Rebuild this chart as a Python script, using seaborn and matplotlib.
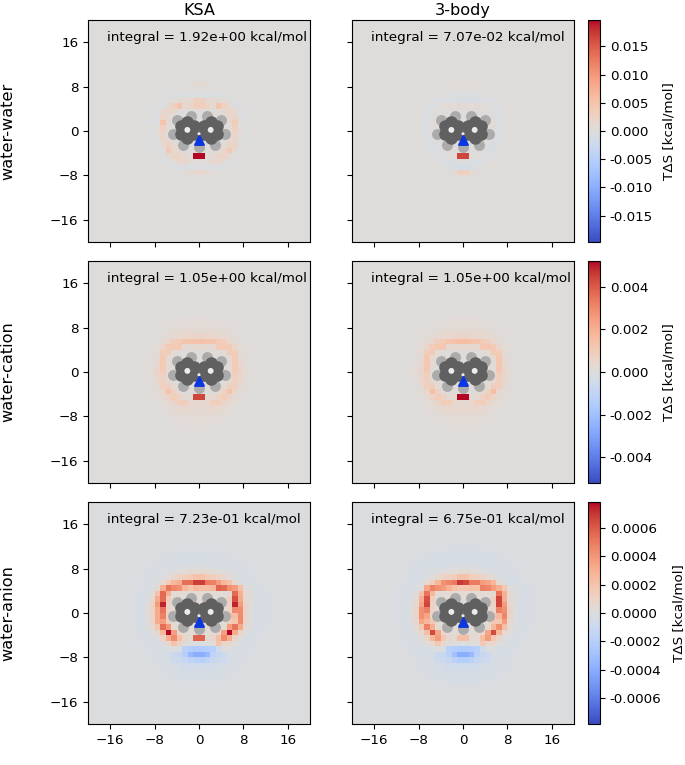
import numpy as np
import matplotlib
matplotlib.use("Agg")
import matplotlib.pyplot as plt
import seaborn as sns

# percent of the colour limit of each row, rows run from high y to low y
# top four panels: x = -11..10, y = 9..-11
ksa_ww = [
    [0, 0, 0, 0, 0, 0, 0, 0, 0, 0, 0, 0, 0, 0, 0, 0, 0, 0, 0, 0, 0, 0],
    [0, 0, 0, 0, 0, 0, 0, 0, 1, 2, 4, 4, 2, 1, 0, 0, 0, 0, 0, 0, 0, 0],
    [0, 0, 0, 0, 0, 0, 0, 0, 0, 0, 1, 1, 0, 0, 0, 0, 0, 0, 0, 0, 0, 0],
    [0, 0, 0, 0, 0, -1, -2, -2, -2, -2, -2, -2, -2, -2, -2, -2, -1, 0, 0, 0, 0, 0],
    [0, 0, 0, 0, -1, -2, 3, 4, 4, 6, 14, 14, 6, 4, 4, 3, -2, -1, 0, 0, 0, 0],
    [0, 0, 0, -1, -2, 4, 15, 24, 6, 10, 16, 16, 10, 6, 24, 15, 5, -2, -1, 0, 0, 0],
    [0, 0, -1, -2, 5, 10, 6, 1, 0, 0, 0, 0, 0, 0, 1, 6, 10, 5, -2, -1, 0, 0],
    [0, 0, -1, -2, 10, 6, 1, 0, 0, 0, 0, 0, 0, 0, 0, 1, 6, 10, -2, -1, 0, 0],
    [0, 0, -1, -2, 24, 4, 1, 0, 0, 0, 0, 0, 0, 0, 0, 1, 4, 20, -2, -1, 0, 0],
    [0, 0, -1, 3, 15, 2, 0, 0, 0, 0, 0, 0, 0, 0, 0, 0, 2, 15, 3, -1, 0, 0],
    [0, 0, -1, 3, 8, 3, 0, 0, 0, 0, 0, 0, 0, 0, 0, 0, 3, 8, 3, -1, 0, 0],
    [0, 0, -1, -1, 8, 5, 0, 0, 0, 0, 0, 0, 0, 0, 0, 0, 5, 8, -1, -1, 0, 0],
    [0, 0, 0, -2, 4, 15, 4, 0, 0, 0, 0, 0, 0, 0, 0, 4, 10, 10, -2, 0, 0, 0],
    [0, 0, 0, -1, -2, 22, 8, 3, 0, 0, 0, 0, 0, 0, 3, 8, 22, 4, -1, 0, 0, 0],
    [0, 0, 0, 0, -1, 4, 10, 10, 5, 3, 100, 100, 3, 5, 10, 10, 4, -1, 0, 0, 0, 0],
    [0, 0, 0, 0, -1, -2, 3, 8, 8, 3, 2, 2, 3, 8, 8, 3, -2, -1, 0, 0, 0, 0],
    [0, 0, 0, 0, 0, -1, -2, -2, -2, -3, -3, -3, -3, -2, -2, -2, -1, 0, 0, 0, 0, 0],
    [0, 0, 0, 0, 0, 0, 0, 0, 2, 4, 8, 8, 4, 2, 0, 0, 0, 0, 0, 0, 0, 0],
    [0, 0, 0, 0, 0, 0, 0, 0, 0, 0, 1, 1, 0, 0, 0, 0, 0, 0, 0, 0, 0, 0],
    [0, 0, 0, 0, 0, 0, 0, 0, 0, 0, 0, 0, 0, 0, 0, 0, 0, 0, 0, 0, 0, 0],
    [0, 0, 0, 0, 0, 0, 0, 0, 0, 0, 0, 0, 0, 0, 0, 0, 0, 0, 0, 0, 0, 0],
]
three_ww = [
    [0, 0, 0, 0, 0, 0, 0, 0, 1, 1, 1, 1, 1, 1, 0, 0, 0, 0, 0, 0, 0, 0],
    [0, 0, 0, 0, 0, 0, 0, 1, 1, 2, 3, 3, 2, 1, 1, 0, 0, 0, 0, 0, 0, 0],
    [0, 0, 0, 0, 0, 1, 1, 1, 1, 1, 1, 1, 1, 1, 1, 1, 1, 0, 0, 0, 0, 0],
    [0, 0, 0, 0, 1, 1, 0, -1, -2, -2, -2, -2, -2, -2, -1, 0, 1, 1, 0, 0, 0, 0],
    [0, 0, 0, 1, 0, -2, -3, -3, -4, -4, -5, -5, -5, -4, -3, -3, -2, 0, 1, 0, 0, 0],
    [0, 0, 1, 1, -2, -3, -1, 3, 5, 2, 4, 4, 2, 5, 3, -1, -3, -2, 1, 1, 0, 0],
    [0, 0, 1, 0, -3, -2, 2, 0, 0, 0, 0, 0, 0, 0, 0, 2, -2, -3, 0, 1, 0, 0],
    [0, 0, 1, -1, -4, 0, 0, 0, 0, 0, 0, 0, 0, 0, 0, 0, 0, -4, -1, 1, 0, 0],
    [0, 0, 1, -1, -4, 2, 0, 0, 0, 0, 0, 0, 0, 0, 0, 0, 2, -4, -1, 1, 0, 0],
    [0, 0, 1, -1, -3, 3, 0, 0, 0, 0, 0, 0, 0, 0, 0, 0, 3, -3, -1, 1, 0, 0],
    [0, 0, 1, -1, -4, 1, 0, 0, 0, 0, 0, 0, 0, 0, 0, 0, 1, -4, -1, 1, 0, 0],
    [0, 0, 1, 0, -4, -3, 0, 0, 0, 0, 0, 0, 0, 0, 0, 0, -3, -4, 0, 1, 0, 0],
    [0, 0, 1, 0, -2, -5, -2, 0, 0, 0, 0, 0, 0, 0, 0, -2, -5, -2, 0, 1, 0, 0],
    [0, 0, 0, 1, 0, -3, -2, 1, 0, 0, 0, 0, 0, 0, 1, -2, -3, 0, 1, 0, 0, 0],
    [0, 0, 0, 1, 1, -1, -3, -2, 1, 2, 84, 84, 2, 1, -2, -3, -1, 1, 1, 0, 0, 0],
    [0, 0, 0, 0, 1, 1, -1, -3, -4, -3, -1, -1, -3, -4, -3, -1, 1, 1, 0, 0, 0, 0],
    [0, 0, 0, 0, 0, 1, 1, 0, -2, -5, -6, -6, -5, -2, 0, 1, 1, 0, 0, 0, 0, 0],
    [0, 0, 0, 0, 0, 0, 1, 2, 1, 4, 15, 15, 4, 1, 2, 1, 0, 0, 0, 0, 0, 0],
    [0, 0, 0, 0, 0, 0, 0, 1, 1, 1, 2, 2, 1, 1, 1, 0, 0, 0, 0, 0, 0, 0],
    [0, 0, 0, 0, 0, 0, 0, 0, 0, 0, 0, 0, 0, 0, 0, 0, 0, 0, 0, 0, 0, 0],
    [0, 0, 0, 0, 0, 0, 0, 0, 0, 0, 0, 0, 0, 0, 0, 0, 0, 0, 0, 0, 0, 0],
]
ksa_wc = [
    [0, 0, 0, 0, 0, 1, 1, 1, 2, 2, 2, 2, 2, 2, 1, 1, 1, 0, 0, 0, 0, 0],
    [0, 0, 0, 0, 1, 1, 2, 2, 3, 3, 3, 3, 3, 3, 2, 2, 1, 1, 0, 0, 0, 0],
    [0, 0, 0, 1, 1, 2, 3, 4, 5, 5, 5, 5, 5, 5, 4, 3, 2, 1, 1, 0, 0, 0],
    [0, 0, 1, 1, 2, 4, 6, 7, 8, 9, 10, 10, 9, 8, 7, 6, 4, 2, 1, 1, 0, 0],
    [0, 0, 1, 2, 4, 8, 17, 20, 24, 24, 26, 26, 24, 24, 20, 17, 8, 4, 2, 1, 0, 0],
    [0, 1, 1, 3, 9, 20, 20, 20, 6, 5, 6, 6, 5, 6, 20, 20, 20, 9, 3, 1, 1, 0],
    [0, 1, 2, 4, 18, 18, 3, 1, 1, 1, 1, 1, 1, 1, 1, 3, 18, 18, 4, 2, 1, 0],
    [0, 1, 2, 5, 20, 6, 1, 1, 1, 1, 1, 1, 1, 1, 1, 1, 6, 20, 5, 2, 1, 0],
    [0, 1, 2, 7, 20, 4, 1, 1, 1, 1, 1, 1, 1, 1, 1, 1, 4, 20, 7, 2, 1, 0],
    [0, 1, 3, 10, 20, 3, 1, 1, 1, 1, 1, 1, 1, 1, 1, 1, 3, 20, 10, 3, 1, 0],
    [0, 1, 3, 10, 14, 3, 1, 1, 1, 1, 1, 1, 1, 1, 1, 1, 3, 14, 10, 3, 1, 0],
    [0, 1, 2, 8, 13, 5, 1, 1, 1, 1, 1, 1, 1, 1, 1, 1, 5, 13, 8, 2, 1, 0],
    [0, 1, 2, 5, 15, 14, 4, 1, 1, 1, 1, 1, 1, 1, 1, 4, 14, 15, 5, 2, 1, 0],
    [0, 0, 1, 3, 8, 26, 12, 3, 1, 1, 1, 1, 1, 1, 3, 12, 26, 8, 3, 1, 0, 0],
    [0, 0, 1, 2, 5, 10, 17, 12, 6, 4, 84, 84, 4, 6, 12, 17, 10, 5, 2, 1, 0, 0],
    [0, 0, 0, 1, 3, 6, 10, 17, 16, 7, 6, 6, 7, 16, 17, 10, 6, 3, 1, 0, 0, 0],
    [0, 0, 0, 1, 2, 3, 5, 7, 8, 7, 6, 6, 7, 8, 7, 5, 3, 2, 1, 0, 0, 0],
    [0, 0, 0, 0, 1, 2, 3, 4, 5, 5, 5, 5, 5, 5, 4, 3, 2, 1, 0, 0, 0, 0],
    [0, 0, 0, 0, 0, 1, 2, 2, 3, 3, 3, 3, 3, 3, 2, 2, 1, 0, 0, 0, 0, 0],
    [0, 0, 0, 0, 0, 0, 1, 1, 1, 2, 2, 2, 2, 1, 1, 1, 0, 0, 0, 0, 0, 0],
    [0, 0, 0, 0, 0, 0, 0, 0, 1, 1, 1, 1, 1, 1, 0, 0, 0, 0, 0, 0, 0, 0],
]
three_wc = [
    [0, 0, 0, 0, 0, 1, 1, 1, 2, 2, 2, 2, 2, 2, 1, 1, 1, 0, 0, 0, 0, 0],
    [0, 0, 0, 0, 1, 1, 2, 2, 3, 3, 3, 3, 3, 3, 2, 2, 1, 1, 0, 0, 0, 0],
    [0, 0, 0, 1, 1, 2, 3, 4, 5, 5, 5, 5, 5, 5, 4, 3, 2, 1, 1, 0, 0, 0],
    [0, 0, 1, 1, 2, 4, 6, 7, 8, 9, 10, 10, 9, 8, 7, 6, 4, 2, 1, 1, 0, 0],
    [0, 0, 1, 2, 4, 8, 16, 20, 24, 26, 28, 28, 26, 24, 20, 16, 8, 4, 2, 1, 0, 0],
    [0, 1, 1, 3, 9, 20, 22, 22, 7, 5, 7, 7, 5, 7, 22, 22, 20, 9, 3, 1, 1, 0],
    [0, 1, 2, 4, 18, 20, 3, 1, 1, 1, 1, 1, 1, 1, 1, 3, 20, 18, 4, 2, 1, 0],
    [0, 1, 2, 5, 22, 7, 1, 1, 1, 1, 1, 1, 1, 1, 1, 1, 7, 22, 5, 2, 1, 0],
    [0, 1, 2, 7, 22, 4, 1, 1, 1, 1, 1, 1, 1, 1, 1, 1, 4, 22, 7, 2, 1, 0],
    [0, 1, 3, 10, 22, 3, 1, 1, 1, 1, 1, 1, 1, 1, 1, 1, 3, 22, 10, 3, 1, 0],
    [0, 1, 3, 10, 16, 3, 1, 1, 1, 1, 1, 1, 1, 1, 1, 1, 3, 16, 10, 3, 1, 0],
    [0, 1, 2, 8, 14, 6, 1, 1, 1, 1, 1, 1, 1, 1, 1, 1, 6, 14, 8, 2, 1, 0],
    [0, 1, 2, 5, 16, 16, 4, 1, 1, 1, 1, 1, 1, 1, 1, 4, 16, 16, 5, 2, 1, 0],
    [0, 0, 1, 3, 8, 28, 13, 3, 1, 1, 1, 1, 1, 1, 3, 13, 28, 8, 3, 1, 0, 0],
    [0, 0, 1, 2, 5, 10, 18, 13, 6, 4, 100, 100, 4, 6, 13, 18, 10, 5, 2, 1, 0, 0],
    [0, 0, 0, 1, 3, 6, 10, 18, 17, 7, 6, 6, 7, 17, 18, 10, 6, 3, 1, 0, 0, 0],
    [0, 0, 0, 1, 2, 3, 5, 7, 8, 7, 6, 6, 7, 8, 7, 5, 3, 2, 1, 0, 0, 0],
    [0, 0, 0, 0, 1, 2, 3, 4, 5, 5, 5, 5, 5, 5, 4, 3, 2, 1, 0, 0, 0, 0],
    [0, 0, 0, 0, 0, 1, 2, 2, 3, 3, 3, 3, 3, 3, 2, 2, 1, 0, 0, 0, 0, 0],
    [0, 0, 0, 0, 0, 0, 1, 1, 1, 2, 2, 2, 2, 1, 1, 1, 0, 0, 0, 0, 0, 0],
    [0, 0, 0, 0, 0, 0, 0, 0, 1, 1, 1, 1, 1, 1, 0, 0, 0, 0, 0, 0, 0, 0],
]
# bottom two panels: x = -14..13, y = 12..-15
ksa_wa = [
    [0, 0, 0, 0, 0, 0, 0, 0, 0, -1, -1, -1, -1, -1, -1, -1, -1, -1, -1, 0, 0, 0, 0, 0, 0, 0, 0, 0],
    [0, 0, 0, 0, 0, 0, 0, -1, -1, -1, -1, -2, -2, -2, -2, -2, -2, -1, -1, -1, -1, 0, 0, 0, 0, 0, 0, 0],
    [0, 0, 0, 0, 0, -1, -1, -1, -2, -2, -3, -3, -3, -3, -3, -3, -3, -3, -2, -2, -1, -1, -1, 0, 0, 0, 0, 0],
    [0, 0, 0, 0, -1, -1, -2, -3, -3, -3, -3, -4, -4, -4, -4, -4, -4, -3, -3, -3, -3, -2, -1, -1, 0, 0, 0, 0],
    [0, 0, 0, -1, -1, -2, -3, -3, -3, -3, -2, -2, -1, 0, 0, -1, -2, -2, -3, -3, -3, -3, -2, -1, -1, 0, 0, 0],
    [0, 0, 0, -1, -2, -3, -3, -2, -1, 1, 3, 5, 6, 8, 8, 6, 5, 3, 1, -1, -2, -3, -3, -2, -1, 0, 0, 0],
    [0, 0, -1, -1, -2, -3, -2, 1, 4, 10, 15, 18, 22, 28, 28, 22, 18, 15, 10, 4, 1, -2, -3, -2, -1, -1, 0, 0],
    [0, 0, -1, -2, -3, -3, 1, 8, 22, 35, 40, 70, 70, 88, 88, 65, 62, 50, 35, 28, 8, 1, -3, -3, -2, -1, 0, 0],
    [0, 0, -1, -2, -3, -1, 6, 40, 68, 60, 55, 35, 25, 35, 30, 30, 35, 75, 72, 55, 50, 28, 4, -1, -3, -2, -1, 0],
    [0, -1, -2, -3, -3, 3, 28, 72, 40, 5, 5, 5, 5, 5, 5, 5, 5, 5, 5, 6, 72, 40, 8, 1, -3, -3, -2, 0],
    [0, -1, -2, -3, -2, 8, 42, 72, 20, 5, 5, 5, 5, 5, 5, 5, 5, 5, 5, 18, 82, 42, 8, 1, -3, -3, -2, 0],
    [0, -1, -2, -3, -1, 12, 50, 95, 14, 5, 5, 5, 5, 5, 5, 5, 5, 5, 5, 14, 95, 50, 12, 0, -3, -3, -2, 0],
    [0, -1, -2, -3, -1, 12, 42, 68, 14, 5, 5, 5, 5, 5, 5, 5, 5, 5, 5, 14, 58, 58, 12, 0, -3, -3, -2, 0],
    [0, -1, -2, -3, 0, 12, 42, 62, 14, 5, 5, 5, 5, 5, 5, 5, 5, 5, 5, 30, 30, 58, 12, 0, -3, -3, -2, 0],
    [0, -1, -2, -3, -1, 10, 42, 48, 18, 5, 5, 5, 5, 5, 5, 5, 5, 5, 5, 18, 25, 58, 10, -1, -3, -3, -2, 0],
    [0, -1, -2, -3, -1, 6, 25, 70, 52, 6, 5, 5, 5, 5, 5, 5, 5, 5, 6, 48, 68, 42, 6, -1, -3, -3, -2, 0],
    [0, 0, -1, -3, -3, 2, 10, 35, 100, 48, 10, 5, 5, 5, 5, 5, 5, 10, 48, 100, 42, 12, 2, -3, -3, -2, 0, 0],
    [0, 0, -1, -2, -3, -3, 2, 12, 40, 58, 30, 10, 6, 75, 75, 6, 10, 30, 58, 40, 12, 2, -3, -3, -2, -1, 0, 0],
    [0, 0, -1, -2, -3, -3, -1, 2, 10, 28, 12, 3, 1, 0, 0, 1, 3, 28, 12, 10, 2, -1, -3, -3, -2, -1, 0, 0],
    [0, 0, 0, -1, -2, -3, -3, -3, -1, 1, -3, -24, -26, -28, -28, -26, -24, -10, 1, -1, -3, -3, -3, -2, -1, 0, 0, 0],
    [0, 0, 0, -1, -2, -2, -3, -3, -4, -12, -14, -25, -42, -50, -50, -42, -20, -14, -12, -4, -3, -3, -2, -2, -1, 0, 0, 0],
    [0, 0, 0, 0, -1, -2, -3, -3, -4, -10, -12, -14, -20, -24, -24, -20, -14, -12, -10, -4, -3, -3, -2, -1, 0, 0, 0, 0],
    [0, 0, 0, 0, 0, -1, -2, -3, -3, -4, -6, -8, -8, -8, -8, -8, -8, -6, -4, -3, -3, -2, -1, 0, 0, 0, 0, 0],
    [0, 0, 0, 0, 0, -1, -1, -2, -3, -3, -4, -5, -5, -5, -5, -5, -5, -4, -3, -3, -2, -1, -1, 0, 0, 0, 0, 0],
    [0, 0, 0, 0, 0, 0, -1, -1, -2, -2, -3, -3, -4, -4, -4, -4, -3, -3, -2, -2, -1, -1, 0, 0, 0, 0, 0, 0],
    [0, 0, 0, 0, 0, 0, 0, 0, -1, -1, -2, -2, -2, -2, -2, -2, -2, -2, -1, -1, 0, 0, 0, 0, 0, 0, 0, 0],
    [0, 0, 0, 0, 0, 0, 0, 0, 0, 0, 0, -1, -1, -1, -1, -1, -1, 0, 0, 0, 0, 0, 0, 0, 0, 0, 0, 0],
    [0, 0, 0, 0, 0, 0, 0, 0, 0, 0, 0, 0, 0, 0, 0, 0, 0, 0, 0, 0, 0, 0, 0, 0, 0, 0, 0, 0],
]
three_wa = [
    [0, 0, 0, 0, 0, 0, 0, 0, 0, -1, -1, -1, -1, -2, -2, -1, -1, -1, -1, 0, 0, 0, 0, 0, 0, 0, 0, 0],
    [0, 0, 0, 0, 0, 0, 0, -1, -1, -2, -2, -3, -3, -3, -3, -3, -3, -2, -2, -1, -1, 0, 0, 0, 0, 0, 0, 0],
    [0, 0, 0, 0, 0, -1, -1, -2, -3, -3, -4, -4, -4, -4, -4, -4, -4, -4, -3, -3, -2, -1, -1, 0, 0, 0, 0, 0],
    [0, 0, 0, 0, -1, -2, -3, -3, -4, -4, -4, -4, -4, -4, -4, -4, -4, -4, -4, -4, -3, -3, -2, -1, 0, 0, 0, 0],
    [0, 0, 0, -1, -2, -3, -3, -4, -4, -4, -3, -3, -2, -1, -1, -2, -3, -3, -4, -4, -4, -3, -3, -2, -1, 0, 0, 0],
    [0, 0, 0, -1, -2, -3, -4, -3, -2, 0, 2, 4, 5, 6, 6, 5, 4, 2, 0, -2, -3, -4, -3, -2, -1, 0, 0, 0],
    [0, 0, -1, -2, -3, -4, -3, 0, 3, 8, 14, 16, 18, 28, 28, 18, 16, 14, 8, 3, 0, -3, -4, -3, -2, -1, 0, 0],
    [0, 0, -1, -2, -3, -3, 0, 6, 18, 35, 55, 60, 65, 90, 85, 65, 65, 50, 45, 35, 6, 0, -3, -3, -2, -1, 0, 0],
    [0, -1, -2, -3, -3, -1, 3, 45, 62, 55, 50, 38, 28, 24, 24, 28, 28, 62, 60, 50, 40, 24, 3, -1, -3, -3, -2, 0],
    [0, -1, -2, -3, -3, 1, 28, 68, 35, 5, 5, 5, 5, 5, 5, 5, 5, 5, 5, 6, 68, 40, 8, 1, -3, -3, -2, 0],
    [0, -1, -2, -3, -2, 7, 40, 82, 18, 5, 5, 5, 5, 5, 5, 5, 5, 5, 5, 18, 86, 40, 7, 1, -3, -3, -2, 0],
    [0, -1, -2, -3, -1, 9, 45, 86, 12, 5, 5, 5, 5, 5, 5, 5, 5, 5, 5, 12, 86, 50, 9, 0, -3, -3, -2, 0],
    [0, -1, -2, -3, -1, 12, 55, 62, 12, 5, 5, 5, 5, 5, 5, 5, 5, 5, 5, 12, 62, 55, 12, 0, -3, -3, -2, 0],
    [0, -1, -2, -3, 0, 12, 55, 45, 12, 5, 5, 5, 5, 5, 5, 5, 5, 5, 5, 24, 35, 60, 12, 0, -3, -3, -2, 0],
    [0, -1, -2, -3, -1, 9, 45, 35, 24, 5, 5, 5, 5, 5, 5, 5, 5, 5, 5, 24, 24, 50, 9, -1, -3, -3, -2, 0],
    [0, -1, -2, -3, -2, 6, 24, 62, 40, 6, 5, 5, 5, 5, 5, 5, 5, 5, 6, 35, 56, 30, 6, -1, -3, -3, -2, 0],
    [0, 0, -1, -3, -3, 2, 9, 30, 84, 45, 9, 5, 5, 5, 5, 5, 5, 9, 45, 84, 35, 9, 2, -3, -3, -2, 0, 0],
    [0, 0, -1, -2, -3, -2, 2, 12, 35, 50, 24, 9, 6, 30, 30, 6, 9, 30, 50, 24, 12, 2, -2, -3, -2, -1, 0, 0],
    [0, 0, -1, -2, -3, -3, -1, 2, 9, 24, 9, 3, 1, 0, 0, 1, 3, 24, 12, 9, 2, -1, -3, -3, -2, -1, 0, 0],
    [0, 0, 0, -1, -2, -3, -4, -3, -2, 0, -3, -24, -26, -28, -28, -26, -24, -10, 0, -2, -3, -4, -3, -2, -1, 0, 0, 0],
    [0, 0, 0, -1, -2, -3, -3, -4, -4, -12, -14, -22, -38, -50, -50, -42, -22, -14, -12, -4, -4, -3, -3, -2, -1, 0, 0, 0],
    [0, 0, 0, 0, -1, -2, -3, -3, -4, -10, -12, -14, -22, -25, -25, -22, -14, -12, -10, -4, -3, -3, -2, -1, 0, 0, 0, 0],
    [0, 0, 0, 0, -1, -2, -3, -3, -4, -4, -6, -8, -9, -9, -9, -9, -8, -6, -4, -4, -3, -3, -2, -1, 0, 0, 0, 0],
    [0, 0, 0, 0, 0, -1, -2, -3, -3, -4, -4, -5, -5, -5, -5, -5, -5, -4, -4, -3, -3, -2, -1, 0, 0, 0, 0, 0],
    [0, 0, 0, 0, 0, 0, -1, -2, -3, -3, -3, -3, -4, -4, -4, -4, -3, -3, -3, -3, -2, -1, 0, 0, 0, 0, 0, 0],
    [0, 0, 0, 0, 0, 0, 0, -1, -1, -2, -2, -3, -3, -3, -3, -3, -3, -2, -2, -1, -1, 0, 0, 0, 0, 0, 0, 0],
    [0, 0, 0, 0, 0, 0, 0, 0, 0, -1, -1, -1, -1, -1, -1, -1, -1, -1, -1, 0, 0, 0, 0, 0, 0, 0, 0, 0],
    [0, 0, 0, 0, 0, 0, 0, 0, 0, 0, 0, 0, 0, 0, 0, 0, 0, 0, 0, 0, 0, 0, 0, 0, 0, 0, 0, 0],
]

col_titles = ["KSA", "3-body"]
row_names = ["water-water", "water-cation", "water-anion"]
integrals = [
    ["integral = 1.92e+00 kcal/mol", "integral = 7.07e-02 kcal/mol"],
    ["integral = 1.05e+00 kcal/mol", "integral = 1.05e+00 kcal/mol"],
    ["integral = 7.23e-01 kcal/mol", "integral = 6.75e-01 kcal/mol"],
]
limits = [0.0197, 0.0052, 0.00078]
backgrounds = [1, 1, -1]
cbar_ticks = [
    [-0.015, -0.010, -0.005, 0.0, 0.005, 0.010, 0.015],
    [-0.004, -0.002, 0.0, 0.002, 0.004],
    [-0.0006, -0.0004, -0.0002, 0.0, 0.0002, 0.0004, 0.0006],
]
cbar_fmt = ["%.3f", "%.3f", "%.4f"]
cbar_pads = [7, 7, 8]
ticks = [-16, -8, 0, 8, 16]

# atoms in angstrom
carbon_x = [-3.3, -2.1, -0.9, -0.9, -2.1, -3.3, 3.3, 2.1, 0.9, 0.9, 2.1, 3.3]
carbon_y = [0.9, 1.6, 0.9, -0.5, -1.2, -0.5, 0.9, 1.6, 0.9, -0.5, -1.2, -0.5]
hydrogen_x = [-3.9, -1.5, 1.4, 3.9, -4.7, 4.7, -2.8, 0.0, 2.8]
hydrogen_y = [2.0, 2.7, 2.7, 2.0, -0.5, -0.5, -2.5, -2.9, -2.5]
hole_x = [-2.1, 2.1, 0.0]
hole_y = [0.2, 0.2, -0.5]
hole_size = [18, 18, 5]

panels = [[ksa_ww, three_ww], [ksa_wc, three_wc], [ksa_wa, three_wa]]
y_tops = [9, 9, 12]


def to_grid(rows, y_top, base):
    # full 40 x 40 map, cells are 1 angstrom
    rows = np.array(rows, dtype=float)
    grid = np.zeros((40, 40))
    x_left = -(rows.shape[1] // 2)
    r0 = 19 - y_top
    c0 = x_left + 20
    grid[r0:r0 + rows.shape[0], c0:c0 + rows.shape[1]] = rows
    return grid + base


def draw_molecule(ax):
    hx = np.array(hydrogen_x) + 20
    hy = 20 - np.array(hydrogen_y)
    cx = np.array(carbon_x) + 20
    cy = 20 - np.array(carbon_y)
    sns.scatterplot(x=hx, y=hy, ax=ax, s=62, color="#ababab", linewidth=0, legend=False)
    sns.scatterplot(x=cx, y=cy, ax=ax, s=82, color="#606060", linewidth=0, legend=False)
    ax.scatter(np.array(hole_x) + 20, 20 - np.array(hole_y), s=hole_size, color="#ececec", linewidth=0, zorder=4)
    ax.scatter([20], [20 + 1.6], s=40, marker="^", color="#0a37e0", edgecolor="#0a37e0", linewidth=1.5, zorder=5)


fig = plt.figure(figsize=(6.85, 7.65), dpi=100)
W, H = 685.0, 765.0
tops = [20, 261, 502]
lefts = [88, 352]
side = 222

for r in range(3):
    vmax = limits[r]
    cax = fig.add_axes([588 / W, 1 - (tops[r] + side) / H, 12 / W, side / H])
    cb = None
    for c in range(2):
        ax = fig.add_axes([lefts[c] / W, 1 - (tops[r] + side) / H, side / W, side / H])
        data = to_grid(panels[r][c], y_tops[r], backgrounds[r]) / 100 * vmax
        sns.heatmap(data, ax=ax, cmap="coolwarm", vmin=-vmax, vmax=vmax, square=False,
                    cbar=c == 0, cbar_ax=cax if c == 0 else None,
                    cbar_kws={"ticks": cbar_ticks[r], "format": cbar_fmt[r]},
                    xticklabels=False, yticklabels=False, rasterized=True)
        if c == 0:
            cb = ax.collections[0].colorbar
        draw_molecule(ax)
        ax.set_xlim(0, 40)
        ax.set_ylim(40, 0)
        for sp in ax.spines.values():
            sp.set_visible(True)
            sp.set_linewidth(0.8)
        ax.set_xticks([t + 20 for t in ticks])
        ax.set_yticks([20 - t for t in ticks])
        ax.set_xticklabels([str(t).replace("-", "\u2212") for t in ticks] if r == 2 else [])
        ax.set_yticklabels([str(t).replace("-", "\u2212") for t in ticks] if c == 0 else [], rotation=0)
        ax.tick_params(axis="both", length=3.5, width=0.8, labelsize=9.7, rotation=0)
        if r == 2:
            ax.set_xlabel("x [Å]", fontsize=9.7, labelpad=4)
        if c == 0:
            ax.set_ylabel("y [Å]", fontsize=9.7, labelpad=4)
        if r == 0:
            ax.set_title(col_titles[c], fontsize=11.6, pad=3.5)
        ax.text(3.4, 3.2, integrals[r][c], ha="left", va="center", fontsize=9.7)
    cb.outline.set_visible(True)
    cb.outline.set_linewidth(0.8)
    cb.ax.tick_params(length=3.5, width=0.8, labelsize=9.7)
    cb.set_label("TΔS [kcal/mol]", fontsize=9.7, labelpad=cbar_pads[r])
    fig.text(8 / W, 1 - (tops[r] + side / 2) / H, row_names[r], rotation=90, ha="center", va="center", fontsize=11.6)

fig.savefig("out.png", dpi=100)
